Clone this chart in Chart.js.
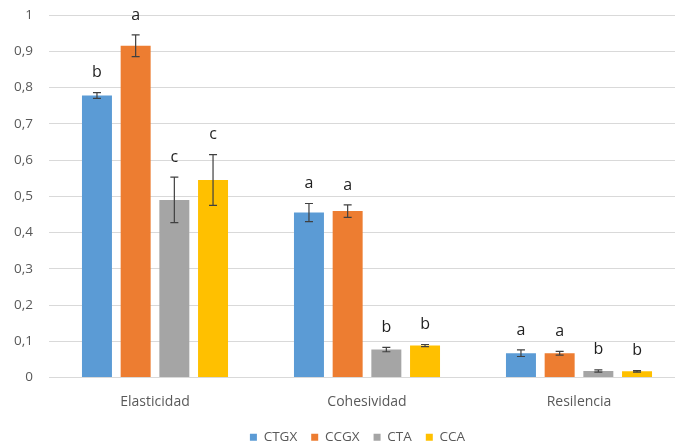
<!DOCTYPE html>
<html>
<head>
<meta charset="utf-8">
<script src="https://cdn.jsdelivr.net/npm/chart.js@4"></script>
<style>
  html, body { margin: 0; padding: 0; background: #ffffff; overflow: hidden; }
  #wrap { width: 675px; height: 443px; overflow: hidden; position: relative; }
  #chart { display: block; }
</style>
</head>
<body>
<div id="wrap"><canvas id="chart" width="715" height="454"></canvas></div>
<script>
// Texture parameters and treatments
const categories = ['Elasticidad', 'Cohesividad', 'Resilencia'];
const seriesNames = ['CTGX', 'CCGX', 'CTA', 'CCA'];

// Mean values per treatment
const ctgx = [0.778, 0.455, 0.067];
const ccgx = [0.915, 0.459, 0.067];
const cta  = [0.490, 0.077, 0.018];
const cca  = [0.545, 0.088, 0.017];

// Standard deviations (error bars)
const ctgxErr = [0.008, 0.025, 0.009];
const ccgxErr = [0.030, 0.017, 0.005];
const ctaErr  = [0.063, 0.006, 0.003];
const ccaErr  = [0.070, 0.003, 0.002];

// Significance letters
const ctgxSig = ['b', 'a', 'a'];
const ccgxSig = ['a', 'a', 'a'];
const ctaSig  = ['c', 'b', 'b'];
const ccaSig  = ['c', 'b', 'b'];

const yTicks = [0, 0.1, 0.2, 0.3, 0.4, 0.5, 0.6, 0.7, 0.8, 0.9, 1];

const colors = ['#5B9BD5', '#ED7D31', '#A5A5A5', '#FFC000'];
const values = [ctgx, ccgx, cta, cca];
const errors = [ctgxErr, ccgxErr, ctaErr, ccaErr];
const letters = [ctgxSig, ccgxSig, ctaSig, ccaSig];

const FONT = "'Open Sans', 'Liberation Sans', sans-serif";

// Draws error whiskers and significance letters above each bar
const errorBarPlugin = {
  id: 'errorBars',
  afterDatasetsDraw(chart) {
    const ctx = chart.ctx;
    const y = chart.scales.y;
    chart.data.datasets.forEach((ds, di) => {
      const meta = chart.getDatasetMeta(di);
      meta.data.forEach((bar, i) => {
        const v = ds.data[i];
        const e = ds.errors[i];
        const top = y.getPixelForValue(v + e);
        const bot = y.getPixelForValue(v - e);
        const cap = 4;
        ctx.save();
        ctx.strokeStyle = '#404040';
        ctx.lineWidth = 1.2;
        ctx.beginPath();
        ctx.moveTo(bar.x, top); ctx.lineTo(bar.x, bot);
        ctx.moveTo(bar.x - cap, top); ctx.lineTo(bar.x + cap, top);
        ctx.moveTo(bar.x - cap, bot); ctx.lineTo(bar.x + cap, bot);
        ctx.stroke();
        ctx.fillStyle = '#1f1f1f';
        ctx.font = '16px ' + FONT;
        ctx.textAlign = 'center';
        ctx.textBaseline = 'middle';
        ctx.fillText(ds.letters[i], bar.x, top - 20);
        ctx.restore();
      });
    });
  }
};

new Chart(document.getElementById('chart'), {
  type: 'bar',
  data: {
    labels: categories,
    datasets: seriesNames.map((name, k) => ({
      label: name,
      data: values[k],
      errors: errors[k],
      letters: letters[k],
      backgroundColor: colors[k],
      borderWidth: 0,
      categoryPercentage: 0.73,
      barPercentage: 0.775
    }))
  },
  options: {
    responsive: false,
    animation: false,
    layout: { padding: { top: 15, right: 0, left: 0, bottom: 0 } },
    plugins: {
      tooltip: { enabled: false },
      legend: {
        position: 'bottom',
        labels: {
          boxWidth: 7,
          boxHeight: 7,
          padding: 14,
          color: '#595959',
          font: { family: FONT, size: 13.5 }
        }
      }
    },
    scales: {
      x: {
        afterFit(scale) { scale.height = 39; },
        grid: { display: false, drawTicks: false },
        border: { display: true, color: '#d9d9d9' },
        ticks: { color: '#595959', padding: 16, font: { family: FONT, size: 14 } }
      },
      y: {
        min: 0,
        max: 1,
        afterBuildTicks(scale) { scale.ticks = yTicks.map(v => ({ value: v })); },
        afterFit(scale) {
          scale.width = 49;
          scale.paddingTop = 0;
          scale.paddingBottom = 0;
        },
        grid: { color: '#d9d9d9', drawTicks: false },
        border: { display: false },
        ticks: {
          color: '#595959',
          padding: 16,
          font: { family: FONT, size: 13.5 },
          callback: (v) => String(Math.round(v * 10) / 10).replace('.', ',')
        }
      },
      // empty right-hand margin so the plot keeps its width while the legend stays centred on the canvas
      yRight: {
        position: 'right',
        min: 0,
        max: 1,
        grid: { display: false, drawTicks: false },
        border: { display: false },
        ticks: { display: false },
        afterFit(scale) {
          scale.width = 30;
          scale.paddingTop = 0;
          scale.paddingBottom = 0;
        }
      }
    }
  },
  plugins: [errorBarPlugin]
});
</script>
</body>
</html>
